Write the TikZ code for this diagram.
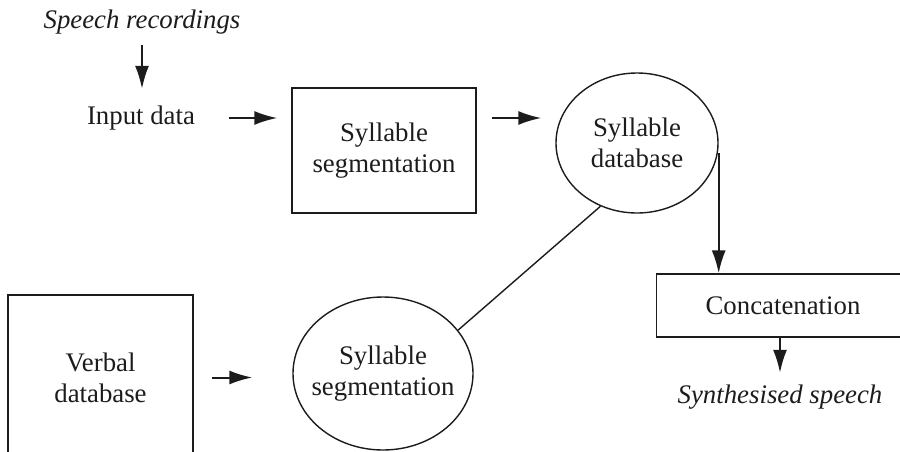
\documentclass[tikz,border=0pt]{standalone}
\usepackage{fontspec}
\setmainfont{Liberation Serif}
\usepackage{tikz}
\usetikzlibrary{arrows.meta,calc,positioning,shapes.geometric}
\definecolor{FlowInk}{HTML}{1C1C1C}

\begin{document}
\begin{tikzpicture}[x=0.5pt,y=-0.5pt,>={Latex[length=11.5pt,width=7pt]},color=FlowInk,
  font=\fontsize{13.4pt}{15.5pt}\selectfont,
  box/.style={draw,line width=0.7pt,rectangle,align=center,inner sep=0pt},
  blob/.style={draw,line width=0.7pt,ellipse,align=center,inner xsep=-6pt,inner ysep=0pt},
  arr/.style={->,line width=1pt}]
  \useasboundingbox (0,0) rectangle (900,451);
  \clip (0,0) rectangle (900,451);
  % upper row
  \node (speech) at (142,22) {\itshape Speech recordings};
  \node (input) at (141,118) {Input data};
  \node[box,minimum width=92pt,minimum height=62.5pt] (seg1) at (384,150.5) {Syllable\\segmentation};
  \node[blob,minimum width=81pt,minimum height=70pt] (sdb) at (637,143) {Syllable\\database};
  \node[box,minimum width=126.5pt,minimum height=31.5pt] (cat) at (783,305.5) {Concatenation};
  \node (synth) at (780,397) {\itshape Synthesised speech};
  % lower row
  \node[box,minimum width=92.5pt,minimum height=82.5pt] (verbal) at (100.5,377.5) {Verbal\\database};
  \node[blob,minimum width=90pt,minimum height=76.5pt] (seg2) at (383,373.5) {Syllable\\segmentation};
  % connectors
  \draw[arr,shorten <=2pt,shorten >=5pt] (speech.south) -- (speech.south |- input.north);
  \draw[arr,shorten <=13.5pt,shorten >=7pt] (input.east) -- (input.east -| seg1.west);
  \draw[arr,shorten <=7.5pt,shorten >=7pt] (seg1.east |- input) -- (sdb.west |- input);
  \draw[arr] ([yshift=-5pt]sdb.east) -- (sdb.east |- cat.north);
  \draw[arr,shorten >=2.5pt] (synth.north |- cat.south) -- (synth.north);
  \draw[line width=0.7pt] (sdb.240) -- (seg2.30);
  \draw[arr,shorten <=9pt,shorten >=20pt] (verbal.east) -- (verbal.east -| seg2.west);
\end{tikzpicture}
\end{document}
